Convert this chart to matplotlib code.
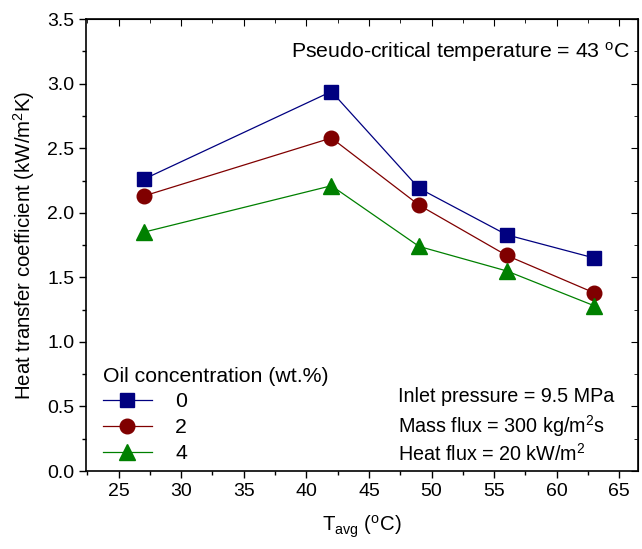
import numpy as np
import matplotlib.pyplot as plt
from matplotlib.ticker import MultipleLocator

plt.rcParams['font.family'] = ['Liberation Sans', 'DejaVu Sans']
plt.rcParams['mathtext.fontset'] = 'custom'
plt.rcParams['mathtext.rm'] = 'Liberation Sans'
plt.rcParams['mathtext.it'] = 'Liberation Sans'

# data
t_avg = [27, 42, 49, 56, 63]
htc_0 = [2.26, 2.94, 2.19, 1.83, 1.65]
htc_2 = [2.13, 2.58, 2.06, 1.67, 1.38]
htc_4 = [1.85, 2.21, 1.74, 1.55, 1.28]
oil_labels = ["0", "2", "4"]

fig = plt.figure(figsize=(6.42, 5.49), dpi=100)
ax = fig.add_axes([0.134, 0.142, 0.860, 0.823])

ax.plot(t_avg, htc_0, color="#000080", marker="s", ms=9.5, lw=0.9, label=oil_labels[0])
ax.plot(t_avg, htc_2, color="#800000", marker="o", ms=10.5, lw=0.9, label=oil_labels[1])
ax.plot(t_avg, htc_4, color="#008000", marker="^", ms=11.5, lw=0.9, label=oil_labels[2])

ax.set_xlim(22.4, 66.5)
ax.set_ylim(0, 3.5)
ax.xaxis.set_major_locator(MultipleLocator(5))
ax.xaxis.set_minor_locator(MultipleLocator(2.5))
ax.yaxis.set_major_locator(MultipleLocator(0.5))
ax.yaxis.set_minor_locator(MultipleLocator(0.25))
ax.yaxis.set_major_formatter(plt.FormatStrFormatter('%.1f'))
ax.tick_params(which='major', direction='out', length=5, width=1, labelsize=14)
ax.tick_params(which='minor', direction='out', length=3, width=1)
for s in ax.spines.values():
    s.set_linewidth(1.2)

# mirrored ticks on top and right pointing inward
top = ax.secondary_xaxis('top')
top.xaxis.set_major_locator(MultipleLocator(5))
top.xaxis.set_minor_locator(MultipleLocator(2.5))
top.tick_params(which='major', direction='in', length=5, labeltop=False)
top.tick_params(which='minor', direction='in', length=3)
right = ax.secondary_yaxis('right')
right.yaxis.set_major_locator(MultipleLocator(0.5))
right.yaxis.set_minor_locator(MultipleLocator(0.25))
right.tick_params(which='major', direction='in', length=5, labelright=False)
right.tick_params(which='minor', direction='in', length=3)

ax.set_xlabel(r"T$_{\rm avg}$ ($^{\rm o}$C)", fontsize=14.7, labelpad=10)
ax.set_ylabel(r"Heat transfer coefficient (kW/m$^{\rm 2}$K)", fontsize=14.7, labelpad=7)

ax.text(0.985, 0.955, r"Pseudo-critical temperature = 43 $^{\rm o}$C", transform=ax.transAxes,
        ha='right', va='top', fontsize=15.3)
ax.text(0.565, 0.165, "Inlet pressure = 9.5 MPa", transform=ax.transAxes, fontsize=14.2, va='center')
ax.text(0.565, 0.10, r"Mass flux = 300 kg/m$^{\rm 2}$s", transform=ax.transAxes, fontsize=14.2, va='center')
ax.text(0.565, 0.037, r"Heat flux = 20 kW/m$^{\rm 2}$", transform=ax.transAxes, fontsize=14.2, va='center')

leg = ax.legend(loc='lower left', bbox_to_anchor=(0.0, -0.02), frameon=False,
                title="Oil concentration (wt.%)", alignment='left', fontsize=15.3,
                title_fontsize=15.3, handlelength=2.3, handletextpad=1.1, labelspacing=0.32,
                borderpad=0.3)

fig.savefig("out.png", dpi=100)
